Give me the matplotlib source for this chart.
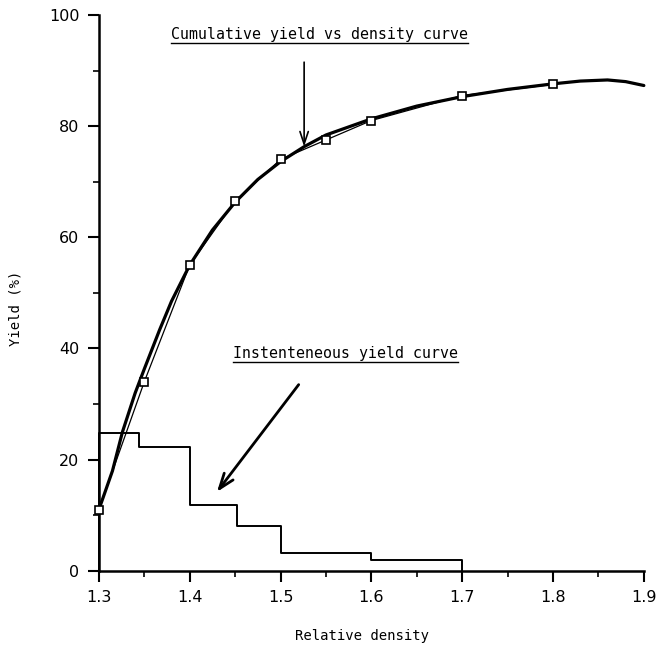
import numpy as np
import matplotlib.pyplot as plt
from matplotlib.lines import Line2D

# measured points (cumulative yield)
dens = [1.30, 1.35, 1.40, 1.45, 1.50, 1.55, 1.60, 1.70, 1.80]
cum_yield = [11.0, 34.0, 55.0, 66.5, 74.0, 77.5, 81.0, 85.5, 87.5]

# hand-drawn smooth curve
curve_x = [1.30, 1.315, 1.326, 1.34, 1.35, 1.367, 1.38, 1.40, 1.425, 1.45, 1.475,
           1.50, 1.526, 1.55, 1.60, 1.65, 1.70, 1.75, 1.80, 1.83, 1.86, 1.88, 1.90]
curve_y = [11.0, 18.0, 25.0, 32.0, 36.3, 43.4, 48.5, 55.0, 61.3, 66.3, 70.4,
           73.6, 76.3, 78.4, 81.3, 83.6, 85.3, 86.6, 87.6, 88.1, 88.3, 88.0, 87.3]

# instantaneous yield (step curve)
step_edges = [1.30, 1.344, 1.40, 1.452, 1.50, 1.60, 1.70]
step_vals = [24.8, 22.2, 11.8, 8.0, 3.2, 2.0]

plt.rcParams['font.family'] = 'DejaVu Sans'
mono = 'DejaVu Sans Mono'
fig = plt.figure(figsize=(6.59, 6.48), dpi=100)
ax = fig.add_axes([0.150, 0.119, 0.827, 0.858])

ax.plot(curve_x, curve_y, color='black', lw=2.3, solid_capstyle='round', clip_on=False)
ax.plot(dens, cum_yield, color='black', lw=0.9, marker='s', ms=5.5, mfc='white',
        mec='black', mew=1.2, clip_on=False, zorder=5)

sx = [step_edges[0]]
sy = [0]
for i, v in enumerate(step_vals):
    sx += [step_edges[i], step_edges[i + 1]]
    sy += [v, v]
sx.append(step_edges[-1])
sy.append(0)
ax.plot(sx, sy, color='black', lw=1.4, clip_on=False)

ax.set_xlim(1.3, 1.9)
ax.set_ylim(0, 100)
ax.set_xticks([1.3, 1.4, 1.5, 1.6, 1.7, 1.8, 1.9])
ax.set_xticklabels(['1.3', '1.4', '1.5', '1.6', '1.7', '1.8', '1.9'])
ax.set_xticks(np.arange(1.35, 1.9, 0.1), minor=True)
ax.set_yticks([0, 20, 40, 60, 80, 100])
ax.set_yticks([10, 30, 50, 70, 90], minor=True)
for s in ['top', 'right']:
    ax.spines[s].set_visible(False)
for s in ['left', 'bottom']:
    ax.spines[s].set_linewidth(1.8)
ax.tick_params(which='major', length=8, width=1.5, labelsize=11.5, pad=6)
ax.tick_params(which='minor', length=4, width=1.2)

ax.set_xlabel('Relative density', fontsize=10, family=mono)
ax.set_ylabel('Yield (%)', fontsize=10, family=mono)
ax.xaxis.set_label_coords(0.483, -0.104)
ax.yaxis.set_label_coords(-0.141, 0.473)

t1 = ax.text(1.543, 95.2, 'Cumulative yield vs density curve', ha='center', va='bottom',
             fontsize=10.7, family=mono)
t2 = ax.text(1.571, 37.8, 'Instenteneous yield curve', ha='center', va='bottom',
             fontsize=10.7, family=mono)

ax.annotate('', xy=(1.526, 76.3), xytext=(1.526, 91.5),
            arrowprops=dict(arrowstyle='->,head_length=0.9,head_width=0.3',
                            color='black', lw=1.2, shrinkA=0, shrinkB=0))
ax.annotate('', xy=(1.430, 14.2), xytext=(1.520, 33.5),
            arrowprops=dict(arrowstyle='->,head_length=1.1,head_width=0.4',
                            color='black', lw=2.0, shrinkA=0, shrinkB=0))

# underline the two labels
fig.canvas.draw()
for t in (t1, t2):
    bb = t.get_window_extent()
    x0, x1 = bb.x0 / fig.bbox.width, bb.x1 / fig.bbox.width
    yy = (bb.y0 - 1) / fig.bbox.height
    fig.add_artist(Line2D([x0, x1], [yy, yy], color='black', lw=1.0))

fig.savefig('out.png', dpi=100)
